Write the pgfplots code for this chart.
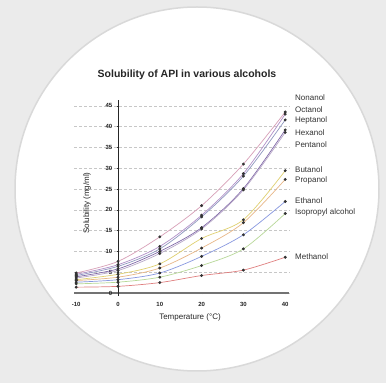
\documentclass[border=0pt]{standalone}
\usepackage{pgfplots}
\pgfplotsset{compat=1.18}
\usepackage{fontspec}
\setmainfont{Liberation Sans}
\definecolor{cNon}{HTML}{D8A0B8}
\definecolor{cOct}{HTML}{B090C8}
\definecolor{cHep}{HTML}{9098C0}
\definecolor{cHex}{HTML}{8068A8}
\definecolor{cPen}{HTML}{B8A8C8}
\definecolor{cBut}{HTML}{E0D070}
\definecolor{cPro}{HTML}{E8B888}
\definecolor{cEth}{HTML}{8898E0}
\definecolor{cIso}{HTML}{B8D898}
\definecolor{cMet}{HTML}{E08080}
\begin{document}
\begin{tikzpicture}[x=1pt,y=1pt]
\useasboundingbox (0,0) rectangle (386,383);
\fill[black!8] (0,0) rectangle (386,383);
\fill[white, draw=black!15, line width=1.5pt] (197,194) circle (182);
\begin{axis}[
  x=4.18pt, y=4.16pt,
  xmin=-10.5, xmax=41, ymin=-0.7, ymax=46.3,
  anchor=south west, at={(74.11pt,87.09pt)},
  axis lines=middle,
  axis line style={-},
  hide obscured x ticks=false,
  hide obscured y ticks=false,
  x axis line style={black!55, line width=1.3pt},
  y axis line style={black!85, line width=0.6pt},
  xtick={-10,0,10,20,30,40},
  ytick={0,5,10,15,20,25,30,35,40,45},
  tick style={black!80},
  major tick length=2.5pt,
  ymajorgrids,
  grid style={densely dashed, black!22, line width=0.5pt},
  /pgf/number format/assume math mode=true,
  tick label style={font=\bfseries\fontsize{6}{7}\selectfont, text=black!85},
  xticklabel style={yshift=-5pt},
  yticklabel style={xshift=-1pt},
  clip=false,
  every axis plot/.append style={smooth, line width=0.7pt,
     mark=*, mark size=1.1pt, mark options={fill=black!80, draw=black!80, solid}},
]
% Nonanol
\addplot[cNon] coordinates {(-10,4.8) (0,7.6) (10,13.5) (20,21.0) (30,31.0) (40,43.5)};
% Octanol
\addplot[cOct] coordinates {(-10,4.5) (0,6.8) (10,11.2) (20,18.7) (30,28.7) (40,43.0)};
% Heptanol
\addplot[cHep] coordinates {(-10,4.2) (0,6.4) (10,10.6) (20,18.3) (30,28.1) (40,41.6)};
% Hexanol
\addplot[cHex] coordinates {(-10,3.9) (0,5.8) (10,10.0) (20,15.7) (30,25.1) (40,39.2)};
% Pentanol
\addplot[cPen] coordinates {(-10,3.6) (0,5.4) (10,9.5) (20,15.4) (30,24.8) (40,38.6)};
% Butanol
\addplot[cBut] coordinates {(-10,3.2) (0,4.5) (10,7.0) (20,13.1) (30,17.6) (40,29.4)};
% Propanol
\addplot[cPro] coordinates {(-10,3.0) (0,3.8) (10,6.0) (20,10.8) (30,16.9) (40,27.3)};
% Ethanol
\addplot[cEth] coordinates {(-10,2.6) (0,3.2) (10,4.8) (20,8.8) (30,14.0) (40,22.0)};
% Isopropyl alcohol
\addplot[cIso] coordinates {(-10,2.2) (0,2.6) (10,3.8) (20,6.6) (30,10.6) (40,19.1)};
% Methanol
\addplot[cMet] coordinates {(-10,1.4) (0,1.6) (10,2.5) (20,4.2) (30,5.5) (40,8.6)};
\end{axis}
\node[font=\bfseries\fontsize{10.5}{12}\selectfont, text=black!85] at (187,308) {Solubility of API in various alcohols};
\node[font=\fontsize{8}{9}\selectfont, text=black!85] at (190,66) {Temperature (°C)};
\node[font=\fontsize{8}{9}\selectfont, text=black!85, rotate=90] at (87,180) {Solubility (mg/ml)};
\begin{scope}[every node/.style={anchor=west, font=\fontsize{8}{9}\selectfont, text=black!80, inner sep=0pt}]
\node at (295,285.3) {Nonanol};
\node at (295,273.7) {Octanol};
\node at (295,262.3) {Heptanol};
\node at (295,250.7) {Hexanol};
\node at (295,238.7) {Pentanol};
\node at (295,213.7) {Butanol};
\node at (295,203.0) {Propanol};
\node at (295,182.0) {Ethanol};
\node at (295,170.7) {Isopropyl alcohol};
\node at (295,126.3) {Methanol};
\end{scope}
\end{tikzpicture}
\end{document}
